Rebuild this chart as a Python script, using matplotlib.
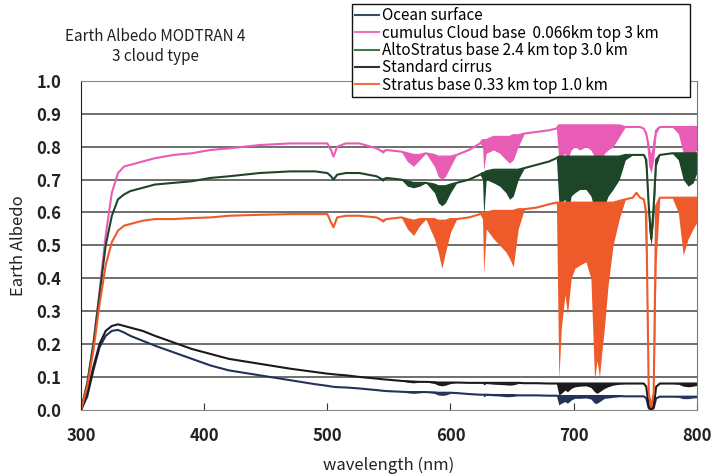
import matplotlib
matplotlib.use("Agg")
import matplotlib.pyplot as plt
from matplotlib.lines import Line2D

# wavelength grid (nm) shared by all series
wavelength = [300, 305, 310, 315, 320, 325, 330, 335, 340, 350, 360, 375, 390, 405, 420,
              445, 470, 490, 500, 503, 505, 508, 515, 526, 540, 545, 548, 560, 565, 570,
              575, 580, 587, 590, 593, 596, 600, 605, 615, 624, 626, 627, 629, 635, 640,
              645, 648, 651, 655, 660, 670, 680, 686, 688, 690, 693, 695, 698, 701, 705,
              710, 714, 717, 719, 721, 723, 725, 728, 732, 737, 742, 748, 751, 754, 757,
              759, 761, 763, 765, 767, 770, 780, 785, 789, 793, 797, 800]

# upper envelope (line) and lower envelope (absorption band fill) of each series
ocean_top = [0.00, 0.04, 0.12, 0.19, 0.225, 0.24, 0.243, 0.235, 0.225, 0.21, 0.195, 0.175, 0.155, 0.135, 0.12,
             0.105, 0.09, 0.078, 0.073, 0.071, 0.070, 0.069, 0.068, 0.065, 0.060, 0.058, 0.057, 0.055, 0.054, 0.054,
             0.054, 0.054, 0.053, 0.052, 0.052, 0.052, 0.052, 0.051, 0.048, 0.046, 0.046, 0.046, 0.046, 0.045, 0.045,
             0.045, 0.045, 0.045, 0.044, 0.044, 0.044, 0.043, 0.043, 0.042, 0.042, 0.042, 0.042, 0.042, 0.042, 0.042,
             0.042, 0.042, 0.042, 0.042, 0.042, 0.042, 0.042, 0.042, 0.042, 0.042, 0.041, 0.041, 0.041, 0.041, 0.041,
             0.035, 0.005, 0.000, 0.005, 0.035, 0.040, 0.040, 0.040, 0.040, 0.040, 0.040, 0.040]
ocean_low = [0.00, 0.04, 0.12, 0.19, 0.225, 0.24, 0.243, 0.235, 0.225, 0.21, 0.195, 0.175, 0.155, 0.135, 0.12,
             0.105, 0.09, 0.078, 0.073, 0.071, 0.070, 0.069, 0.068, 0.065, 0.060, 0.058, 0.057, 0.055, 0.052, 0.050,
             0.052, 0.054, 0.050, 0.045, 0.044, 0.045, 0.050, 0.051, 0.048, 0.046, 0.046, 0.040, 0.044, 0.043, 0.042,
             0.040, 0.040, 0.041, 0.044, 0.044, 0.044, 0.043, 0.043, 0.015, 0.020, 0.025, 0.020, 0.030, 0.035, 0.035,
             0.036, 0.033, 0.020, 0.020, 0.025, 0.030, 0.035, 0.036, 0.038, 0.040, 0.041, 0.041, 0.041, 0.041, 0.041,
             0.035, 0.005, 0.000, 0.005, 0.035, 0.040, 0.040, 0.038, 0.034, 0.034, 0.036, 0.037]

cumulus_top = [0.00, 0.08, 0.20, 0.36, 0.53, 0.66, 0.72, 0.74, 0.745, 0.755, 0.765, 0.775, 0.78, 0.79, 0.795,
               0.805, 0.81, 0.81, 0.81, 0.79, 0.77, 0.80, 0.81, 0.81, 0.795, 0.785, 0.79, 0.785, 0.78, 0.775,
               0.775, 0.78, 0.775, 0.77, 0.77, 0.77, 0.77, 0.775, 0.79, 0.81, 0.82, 0.82, 0.82, 0.83, 0.83,
               0.83, 0.83, 0.835, 0.835, 0.84, 0.845, 0.85, 0.855, 0.865, 0.865, 0.865, 0.865, 0.865, 0.865, 0.865,
               0.865, 0.865, 0.865, 0.865, 0.865, 0.865, 0.865, 0.865, 0.865, 0.865, 0.86, 0.86, 0.86, 0.86, 0.855,
               0.84, 0.80, 0.76, 0.80, 0.85, 0.86, 0.86, 0.86, 0.86, 0.86, 0.86, 0.86]
cumulus_low = [0.00, 0.08, 0.20, 0.36, 0.53, 0.66, 0.72, 0.74, 0.745, 0.755, 0.765, 0.775, 0.78, 0.79, 0.795,
               0.805, 0.81, 0.81, 0.81, 0.79, 0.77, 0.80, 0.81, 0.81, 0.795, 0.78, 0.79, 0.785, 0.755, 0.74,
               0.76, 0.78, 0.74, 0.71, 0.70, 0.71, 0.74, 0.775, 0.79, 0.81, 0.80, 0.73, 0.78, 0.79, 0.78,
               0.76, 0.75, 0.76, 0.80, 0.84, 0.845, 0.85, 0.855, 0.76, 0.77, 0.78, 0.76, 0.79, 0.80, 0.79,
               0.80, 0.79, 0.77, 0.755, 0.76, 0.76, 0.78, 0.79, 0.80, 0.83, 0.86, 0.86, 0.86, 0.86, 0.855,
               0.82, 0.74, 0.72, 0.76, 0.84, 0.86, 0.86, 0.84, 0.78, 0.76, 0.78, 0.79]

alto_top = [0.00, 0.08, 0.20, 0.35, 0.50, 0.59, 0.64, 0.655, 0.665, 0.675, 0.685, 0.69, 0.695, 0.705, 0.71,
            0.72, 0.725, 0.725, 0.72, 0.71, 0.70, 0.715, 0.72, 0.72, 0.71, 0.70, 0.705, 0.70, 0.695, 0.69,
            0.69, 0.69, 0.685, 0.68, 0.68, 0.68, 0.685, 0.69, 0.70, 0.715, 0.72, 0.72, 0.725, 0.73, 0.73,
            0.73, 0.73, 0.73, 0.73, 0.735, 0.745, 0.755, 0.765, 0.77, 0.77, 0.77, 0.77, 0.77, 0.77, 0.77,
            0.77, 0.77, 0.77, 0.77, 0.77, 0.77, 0.77, 0.77, 0.77, 0.77, 0.775, 0.775, 0.775, 0.775, 0.775,
            0.76, 0.62, 0.52, 0.62, 0.76, 0.775, 0.78, 0.78, 0.78, 0.78, 0.78, 0.78]
alto_low = [0.00, 0.08, 0.20, 0.35, 0.50, 0.59, 0.64, 0.655, 0.665, 0.675, 0.685, 0.69, 0.695, 0.705, 0.71,
            0.72, 0.725, 0.725, 0.72, 0.71, 0.70, 0.715, 0.72, 0.72, 0.71, 0.695, 0.705, 0.70, 0.68, 0.675,
            0.68, 0.69, 0.66, 0.63, 0.62, 0.63, 0.66, 0.69, 0.70, 0.715, 0.70, 0.59, 0.70, 0.69, 0.68,
            0.66, 0.64, 0.65, 0.70, 0.735, 0.745, 0.755, 0.765, 0.63, 0.63, 0.64, 0.59, 0.65, 0.66, 0.67,
            0.67, 0.65, 0.61, 0.61, 0.60, 0.61, 0.62, 0.65, 0.67, 0.70, 0.76, 0.775, 0.775, 0.775, 0.775,
            0.72, 0.55, 0.50, 0.58, 0.74, 0.775, 0.78, 0.76, 0.70, 0.68, 0.69, 0.72]

cirrus_top = [0.00, 0.05, 0.13, 0.20, 0.24, 0.255, 0.26, 0.255, 0.25, 0.24, 0.225, 0.205, 0.185, 0.17, 0.155,
              0.14, 0.125, 0.115, 0.11, 0.109, 0.108, 0.107, 0.105, 0.10, 0.095, 0.093, 0.092, 0.088, 0.087, 0.086,
              0.085, 0.085, 0.084, 0.083, 0.083, 0.083, 0.083, 0.083, 0.082, 0.082, 0.082, 0.082, 0.082, 0.082, 0.082,
              0.082, 0.082, 0.082, 0.082, 0.081, 0.081, 0.080, 0.080, 0.080, 0.080, 0.080, 0.080, 0.080, 0.080, 0.080,
              0.080, 0.080, 0.080, 0.080, 0.080, 0.080, 0.080, 0.080, 0.080, 0.080, 0.080, 0.080, 0.080, 0.080, 0.080,
              0.070, 0.010, 0.000, 0.010, 0.070, 0.080, 0.080, 0.080, 0.080, 0.080, 0.080, 0.080]
cirrus_low = [0.00, 0.05, 0.13, 0.20, 0.24, 0.255, 0.26, 0.255, 0.25, 0.24, 0.225, 0.205, 0.185, 0.17, 0.155,
              0.14, 0.125, 0.115, 0.11, 0.109, 0.108, 0.107, 0.105, 0.10, 0.095, 0.093, 0.092, 0.088, 0.084, 0.082,
              0.084, 0.085, 0.080, 0.075, 0.073, 0.075, 0.080, 0.083, 0.082, 0.082, 0.082, 0.076, 0.080, 0.078, 0.077,
              0.076, 0.075, 0.076, 0.080, 0.081, 0.081, 0.080, 0.080, 0.045, 0.050, 0.060, 0.055, 0.065, 0.070, 0.072,
              0.073, 0.068, 0.055, 0.050, 0.055, 0.060, 0.065, 0.070, 0.075, 0.078, 0.080, 0.080, 0.080, 0.080, 0.080,
              0.070, 0.010, 0.000, 0.010, 0.070, 0.080, 0.080, 0.078, 0.072, 0.070, 0.072, 0.074]

stratus_top = [0.00, 0.07, 0.18, 0.32, 0.44, 0.51, 0.545, 0.56, 0.565, 0.575, 0.58, 0.58, 0.583, 0.585, 0.59,
               0.593, 0.595, 0.595, 0.595, 0.57, 0.555, 0.585, 0.59, 0.59, 0.585, 0.575, 0.58, 0.585, 0.58, 0.575,
               0.58, 0.58, 0.58, 0.575, 0.575, 0.575, 0.58, 0.58, 0.585, 0.595, 0.60, 0.60, 0.60, 0.605, 0.605,
               0.605, 0.605, 0.605, 0.61, 0.61, 0.615, 0.625, 0.63, 0.63, 0.63, 0.63, 0.63, 0.63, 0.63, 0.63,
               0.63, 0.63, 0.63, 0.63, 0.63, 0.63, 0.63, 0.63, 0.63, 0.635, 0.64, 0.645, 0.66, 0.645, 0.64,
               0.60, 0.05, 0.01, 0.05, 0.62, 0.645, 0.645, 0.645, 0.645, 0.645, 0.645, 0.645]
stratus_low = [0.00, 0.07, 0.18, 0.32, 0.44, 0.51, 0.545, 0.56, 0.565, 0.575, 0.58, 0.58, 0.583, 0.585, 0.59,
               0.593, 0.595, 0.595, 0.595, 0.57, 0.555, 0.585, 0.59, 0.59, 0.585, 0.57, 0.58, 0.585, 0.55, 0.53,
               0.56, 0.58, 0.52, 0.48, 0.43, 0.48, 0.54, 0.58, 0.585, 0.595, 0.58, 0.415, 0.55, 0.52, 0.50,
               0.48, 0.46, 0.435, 0.55, 0.61, 0.615, 0.625, 0.63, 0.09, 0.25, 0.35, 0.29, 0.40, 0.43, 0.44,
               0.45, 0.40, 0.09, 0.15, 0.10, 0.18, 0.25, 0.38, 0.50, 0.58, 0.64, 0.645, 0.66, 0.645, 0.64,
               0.40, 0.02, 0.005, 0.02, 0.45, 0.645, 0.645, 0.60, 0.47, 0.52, 0.55, 0.57]

series = [
    ("Ocean surface", ocean_top, ocean_low, "#24325a"),
    ("cumulus Cloud base  0.066km top 3 km", cumulus_top, cumulus_low, "#e85cb5"),
    ("AltoStratus base 2.4 km top 3.0 km", alto_top, alto_low, "#1d4528"),
    ("Standard cirrus", cirrus_top, cirrus_low, "#1a1a1a"),
    ("Stratus base 0.33 km top 1.0 km", stratus_top, stratus_low, "#ee5a2a"),
]
legend_colors = ["#3a4a6a", "#f070c0", "#3f7a4f", "#333333", "#f07040"]

plt.rcParams['font.family'] = ['Noto Sans CJK JP', 'DejaVu Sans']

fig = plt.figure(figsize=(7.11, 4.76), dpi=100)
ax = fig.add_axes([0.114, 0.139, 0.866, 0.691])

for label, top, low, color in series:
    ax.fill_between(wavelength, low, top, color=color, lw=0)
    ax.plot(wavelength, top, color=color, lw=1.5)

ax.set_xlim(300, 800)
ax.set_ylim(0, 1.0)
ax.set_xticks([300, 400, 500, 600, 700, 800])
ax.set_yticks([i / 10 for i in range(11)])
ax.set_yticklabels([f"{i / 10:.1f}" for i in range(11)])
for y in [i / 10 for i in range(1, 10)]:
    ax.axhline(y, color="#555555", lw=1.2, zorder=0)

ax.tick_params(axis="x", direction="in", length=5, pad=12, labelsize=12, colors="#333333")
ax.tick_params(axis="y", length=0, pad=14, labelsize=12, colors="#222222")
for lab in ax.get_xticklabels() + ax.get_yticklabels():
    lab.set_color("#222222")
    lab.set_fontweight("bold")

ax.spines["left"].set_color("#222222")
ax.spines["right"].set_color("#777777")
for side in ["top", "bottom"]:
    ax.spines[side].set_color("#888888")
    ax.spines[side].set_linestyle((0, (3, 1)))

fig.text(0.218, 0.924, "Earth Albedo MODTRAN 4", ha="center", va="center", fontsize=11, color="#222222")
fig.text(0.218, 0.882, "3 cloud type", ha="center", va="center", fontsize=11, color="#222222")
fig.text(0.026, 0.485, "Earth Albedo", rotation=90, ha="center", va="center", fontsize=12, color="#222222")
fig.text(0.547, 0.023, "wavelength (nm)", ha="center", va="center", fontsize=12, color="#222222")

handles = [Line2D([0], [0], color=c, lw=1.5) for c in legend_colors]
labels = [s[0] for s in series]
leg = fig.legend(handles, labels, loc="upper left", bbox_to_anchor=(0.495, 0.991, 0.475, 0.0),
                 mode="expand", fontsize=11, frameon=True, fancybox=False, edgecolor="#111111",
                 framealpha=1, borderaxespad=0, borderpad=0.2, labelspacing=0.02,
                 handlelength=1.6, handletextpad=0.15)
leg.get_frame().set_linewidth(1.0)

fig.savefig("out.png", dpi=100)
